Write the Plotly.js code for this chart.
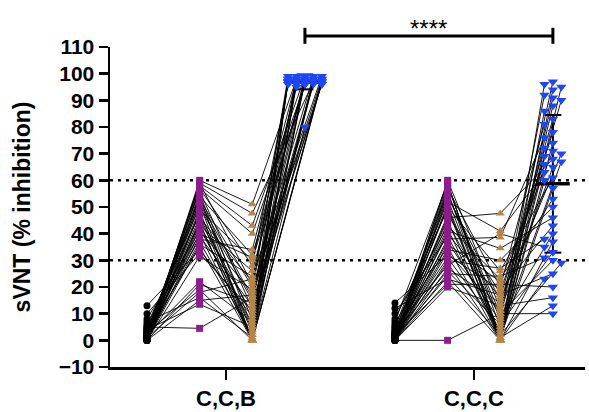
<!DOCTYPE html>
<html>
<head>
<meta charset="utf-8">
<script src="https://cdn.plot.ly/plotly-3.0.1.min.js"></script>
<style>html,body{margin:0;padding:0;background:#fff;}#chart{width:589px;height:412px;}</style>
</head>
<body>
<div id="chart"></div>
<script>
// ---- DATA ----
const categories = ['C,C,B', 'C,C,C'];
const thresholds = [30, 60];
const sigLabel = '****';

// Group C,C,B : four timepoints per subject
const ccb_t1 = [0,1,2,0,3,1,0,4,2,0,5,1,0,6,2,0,3,1,0,8,2,0,4,1,0,3,13,0,2,1,0,5,10,0,2,0,3,1,7,0,4,5,0,1];
const ccb_t2 = [60,59,58,57,56,55,54,53,52,51,50,49,48,47,46,45,44,43,42,41,40,39,38,37,36,35,34,57,52,48,44,40,32.6,31.5,22,21,19,18,16,15,13.5,4.5,59,54];
const ccb_t3 = [51,47.6,43,40,12,5,0,20,8,0,15,30,3,0,22,10,0,26,6,18,0,13,34,2,24,0,9,28,16,4,0,31,11,19,7,14,0,23,1,17,5,16,21,32];
const ccb_t4 = [98,97,99,96,97,98,97,96,99,98,97,96,97,98,99,97,96,98,97,99,97,96,98,97,99,97,98,96,97,98,97,95,97,98,97,96,98,97,80,99,97,98,97,96];

// Group C,C,C
const ccc_t1 = [0,2,1,0,3,5,0,1,4,0,2,8,0,1,3,0,6,2,0,1,10,0,2,0,4,1,0,14,2,0,1,5,0,3,0,1,12,0,2,0,7,0,1,0];
const ccc_t2 = [60,59,58,57,56,55,54,53,52,51,50,49,47,46,45,44,43,42,41,40,39,38,37,36,35,34,33,32,31,30,29,28,27,26,25,24,23,22,21,20,59,55,50,0];
const ccc_t3 = [12,0,5,20,0,8,15,2,41,0,26,1,18,47.6,0,9,23,0,34.5,16,3,38.6,7,22,0,30,11,19,4,27,0,40,14,6,24,2,17,0,21,13,1,10,0,10];
const ccc_t4 = [90,96,88,81,72,97,70,66,63,95,61,57,78,68,86,92,53,74,46,83,67,76,40,71,94,50,65,43,91,38,60,35,69,33,31,29,25,23,20,16,13,10,37,30];

const colors = {t1: '#000000', t2: '#8C1D8C', t3: '#B5854B', t4: '#1E46F5'};

// ---- LAYOUT HELPERS ----
const groupBase = [1, 5.71];          // x of first timepoint in each group
const groups = [
  {t: [ccb_t1, ccb_t2, ccb_t3, ccb_t4]},
  {t: [ccc_t1, ccc_t2, ccc_t3, ccc_t4]}
];

// simple beeswarm for the last timepoint
function swarm(vals, step, thr) {
  const slots = [0, -1, 1, -2, 2];
  const order = vals.map((v, i) => i).sort((a, b) => vals[b] - vals[a]);
  const placed = [];
  const off = new Array(vals.length).fill(0);
  order.forEach(i => {
    let best = 0, bestC = Infinity;
    for (const s of slots) {
      const c = placed.filter(p => p.s === s && Math.abs(p.v - vals[i]) < thr).length;
      if (c < bestC) { bestC = c; best = s; }
      if (c === 0) break;
    }
    placed.push({s: best, v: vals[i]});
    off[i] = best * step;
  });
  return off;
}

const traces = [];
const markerX = [[], [], [], []], markerY = [[], [], [], []];
const shapes = [];

groups.forEach((g, gi) => {
  const b = groupBase[gi];
  const jit = swarm(g.t[3], 0.16, 3);
  const lx = [], ly = [];
  g.t[0].forEach((_, i) => {
    for (let k = 0; k < 4; k++) {
      const x = b + k + (k === 3 ? jit[i] : 0);
      lx.push(x); ly.push(g.t[k][i]);
      markerX[k].push(x); markerY[k].push(g.t[k][i]);
    }
    lx.push(null); ly.push(null);
  });
  traces.push({x: lx, y: ly, mode: 'lines', type: 'scatter', hoverinfo: 'skip',
    line: {color: 'rgba(0,0,0,0.9)', width: 1}, showlegend: false, cliponaxis: false});
});

// mean +/- SD bars for last timepoint
groups.forEach((g, gi) => {
  const v = g.t[3];
  const n = v.length;
  const m = v.reduce((a, c) => a + c, 0) / n;
  const sd = Math.sqrt(v.reduce((a, c) => a + (c - m) * (c - m), 0) / (n - 1));
  const xc = groupBase[gi] + 3;
  traces.push({x: [xc, xc], y: [m - sd, m + sd], mode: 'lines', line: {color: '#000', width: 2}, hoverinfo: 'skip', showlegend: false});
  traces.push({x: [xc - 0.16, xc + 0.16, null, xc - 0.16, xc + 0.16], y: [m - sd, m - sd, null, m + sd, m + sd], mode: 'lines', line: {color: '#000', width: 2}, hoverinfo: 'skip', showlegend: false});
  traces.push({x: [xc - 0.32, xc + 0.32], y: [m, m], mode: 'lines', line: {color: '#000', width: 3.5}, hoverinfo: 'skip', showlegend: false});
});

const sym = ['circle', 'square', 'triangle-up', 'triangle-down'];
const sizes = [7, 7, 8, 9];
['t1', 't2', 't3', 't4'].forEach((key, k) => {
  traces.push({x: markerX[k], y: markerY[k], mode: 'markers', type: 'scatter', cliponaxis: false,
    marker: {symbol: sym[k], size: sizes[k], color: colors[key], line: {width: 0}},
    hoverinfo: 'skip', showlegend: false});
});

thresholds.forEach(t => shapes.push({type: 'line', xref: 'paper', x0: 0, x1: 1, yref: 'y', y0: t, y1: t,
  layer: 'below', line: {color: '#000', width: 2.5, dash: '3px,5px'}}));

// significance bracket between the last timepoints of the two groups
const sx0 = groupBase[0] + 3, sx1 = groupBase[1] + 3;
shapes.push({type: 'line', xref: 'x', yref: 'paper', x0: sx0, x1: sx1, y0: 1.034, y1: 1.034, line: {color: '#000', width: 3}});
shapes.push({type: 'line', xref: 'x', yref: 'paper', x0: sx0, x1: sx0, y0: 1.01, y1: 1.06, line: {color: '#000', width: 3}});
shapes.push({type: 'line', xref: 'x', yref: 'paper', x0: sx1, x1: sx1, y0: 1.01, y1: 1.06, line: {color: '#000', width: 3}});

const fam = 'Arial, "Liberation Sans", sans-serif';
const yTicks = [];
for (let v = -10; v <= 110; v += 10) yTicks.push(v);

const layout = {
  width: 589, height: 412,
  margin: {l: 110, r: 4, t: 47, b: 45},
  paper_bgcolor: '#fff', plot_bgcolor: '#fff',
  showlegend: false,
  xaxis: {range: [0.2975, 9.32], tickmode: 'array',
    tickvals: groupBase.map(b => b + 1.5), ticktext: categories,
    showgrid: false, zeroline: false, showline: true, linecolor: '#000', linewidth: 2.5,
    ticks: 'outside', ticklen: 10, tickwidth: 2.5, tickcolor: '#000',
    tickfont: {family: fam, size: 22, color: '#000', weight: 'bold'}},
  yaxis: {range: [-10, 110], tickmode: 'array', tickvals: yTicks,
    showgrid: false, zeroline: false, showline: true, linecolor: '#000', linewidth: 2.5,
    ticks: 'outside', ticklen: 9, tickwidth: 2.5, tickcolor: '#000',
    tickfont: {family: fam, size: 21, color: '#000', weight: 'bold'},
    title: {text: 'sVNT (% inhibition)', font: {family: fam, size: 23, color: '#000', weight: 'bold'}, standoff: 22}},
  shapes: shapes,
  annotations: [{text: sigLabel, xref: 'x', yref: 'paper', x: (sx0 + sx1) / 2, y: 1.105, showarrow: false,
    font: {family: fam, size: 24, color: '#000'}}]
};

Plotly.newPlot('chart', traces, layout, {staticPlot: true, displayModeBar: false});
</script>
</body>
</html>
